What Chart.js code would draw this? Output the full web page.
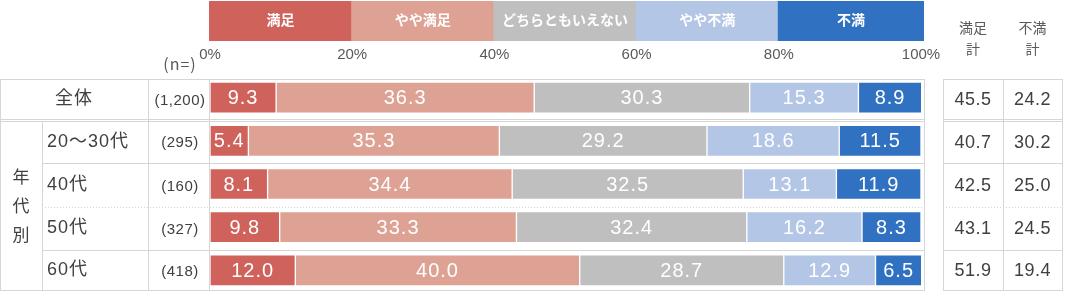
<!doctype html>
<html lang="ja">
<head>
<meta charset="utf-8">
<title>満足度</title>
<style>
  * { margin: 0; padding: 0; }
  body { background: #fff; }
  .chartBox { width: 1065px; height: 292px; position: relative; }
</style>
</head>
<body>
<div class="chartBox"><canvas id="myChart"></canvas></div>
<script src="https://cdn.jsdelivr.net/npm/chart.js"></script>
<script>
  // data
  const categories = ['全体', '20～30代', '40代', '50代', '60代'];
  const sampleSizes = ['(1,200)', '(295)', '(160)', '(327)', '(418)'];
  const seriesNames = ['満足', 'やや満足', 'どちらともいえない', 'やや不満', '不満'];
  const satisfied = [9.3, 5.4, 8.1, 9.8, 12.0];
  const somewhatSatisfied = [36.3, 35.3, 34.4, 33.3, 40.0];
  const neutral = [30.3, 29.2, 32.5, 32.4, 28.7];
  const somewhatDissatisfied = [15.3, 18.6, 13.1, 16.2, 12.9];
  const dissatisfied = [8.9, 11.5, 11.9, 8.3, 6.5];
  const satisfiedTotal = [45.5, 40.7, 42.5, 43.1, 51.9];
  const dissatisfiedTotal = [24.2, 30.2, 25.0, 24.5, 19.4];
  const tickLabels = ['0%', '20%', '40%', '60%', '80%', '100%'];

  const colors = ['#cf625b', '#dda294', '#bfbfbf', '#b4c6e6', '#3171c1'];
  const FONT = "'Liberation Sans', 'Noto Sans CJK JP', sans-serif";
  const JP = "'Noto Sans CJK JP', sans-serif";
  const LINE = '#d6d6d6';

  const seriesValues = [satisfied, somewhatSatisfied, neutral, somewhatDissatisfied, dissatisfied];

  const data = {
    labels: categories,
    datasets: seriesValues.map((vals, i) => ({
      label: seriesNames[i],
      data: vals,
      backgroundColor: colors[i],
      borderColor: 'rgba(255,255,255,0.55)',
      borderWidth: 1,
      borderSkipped: false,
      barThickness: 31
    }))
  };

  function rowBounds(y) {
    const c = categories.map((_, i) => y.getPixelForValue(i));
    const b = [c[0] - 19];
    for (let i = 1; i < c.length; i++) b.push((c[i - 1] + c[i]) / 2 + 1);
    b.push(c[c.length - 1] + 20);
    return b;
  }

  function hLine(ctx, x1, x2, yy, dotted) {
    ctx.save();
    ctx.strokeStyle = LINE;
    ctx.lineWidth = 1;
    if (dotted) ctx.setLineDash([1, 2]);
    ctx.beginPath();
    ctx.moveTo(x1, Math.round(yy) + 0.5);
    ctx.lineTo(x2, Math.round(yy) + 0.5);
    ctx.stroke();
    ctx.restore();
  }

  function vLine(ctx, xx, y1, y2) {
    ctx.save();
    ctx.strokeStyle = LINE;
    ctx.lineWidth = 1;
    ctx.beginPath();
    ctx.moveTo(Math.round(xx) + 0.5, y1);
    ctx.lineTo(Math.round(xx) + 0.5, y2);
    ctx.stroke();
    ctx.restore();
  }

  const tablePlugin = {
    id: 'tablePlugin',
    beforeDraw(chart) {
      const { ctx, chartArea: { left, right }, scales: { x, y } } = chart;
      const b = rowBounds(y);
      const gridRight = right + 3;
      const tL = 943, tM = 1003, tR = 1062;

      // legend boxes on top
      ctx.save();
      seriesNames.forEach((name, i) => {
        const x1 = x.getPixelForValue(i * 20) - 1;
        const x2 = i === 4 ? gridRight : x.getPixelForValue((i + 1) * 20);
        ctx.fillStyle = colors[i];
        ctx.fillRect(x1, 1, x2 - x1, 40);
        ctx.fillStyle = '#fff';
        ctx.font = 'bold 14px ' + JP;
        ctx.textAlign = 'center';
        ctx.textBaseline = 'middle';
        ctx.fillText(name, (x1 + x2) / 2, 20);
      });

      // headers
      ctx.fillStyle = '#595959';
      ctx.font = '14px ' + JP;
      ctx.textAlign = 'center';
      ctx.textBaseline = 'middle';
      ctx.fillText('満足', (tL + tM) / 2, 28);
      ctx.fillText('計', (tL + tM) / 2, 49);
      ctx.fillText('不満', (tM + tR) / 2, 28);
      ctx.fillText('計', (tM + tR) / 2, 49);
      ctx.font = '16px ' + JP;
      ctx.letterSpacing = '1px';
      ctx.fillText('(n=)', 180, 64);
      ctx.letterSpacing = '0px';
      ctx.restore();

      // grid lines
      hLine(ctx, 0, gridRight, b[0]);
      hLine(ctx, tL, tR, b[0]);
      hLine(ctx, 0, gridRight, b[1] - 1);
      hLine(ctx, 0, gridRight, b[1] + 1);
      hLine(ctx, tL, tR, b[1] - 1);
      hLine(ctx, tL, tR, b[1] + 1);
      hLine(ctx, 42, gridRight, b[2]);
      hLine(ctx, tL, tR, b[2]);
      hLine(ctx, 42, gridRight, b[3], true);
      hLine(ctx, tL, tR, b[3], true);
      hLine(ctx, 42, gridRight, b[4]);
      hLine(ctx, tL, tR, b[4]);
      hLine(ctx, 0, gridRight, b[5]);
      hLine(ctx, tL, tR, b[5]);
      const top = Math.round(b[0]), bot = Math.round(b[5]) + 1;
      vLine(ctx, 0, top, bot);
      vLine(ctx, 42, b[1] + 1, bot);
      vLine(ctx, 148, top, bot);
      vLine(ctx, left - 1, top, bot);
      vLine(ctx, gridRight, top, bot);
      vLine(ctx, tL, top, bot);
      vLine(ctx, tM, top, bot);
      vLine(ctx, tR, top, bot);

      // left labels
      ctx.save();
      ctx.fillStyle = '#404040';
      ctx.textBaseline = 'middle';
      categories.forEach((cat, i) => {
        const mid = (b[i] + b[i + 1]) / 2;
        ctx.font = '18px ' + FONT;
        ctx.letterSpacing = '1px';
        if (i === 0) {
          ctx.textAlign = 'center';
          ctx.fillText(cat, 74, mid);
        } else {
          ctx.textAlign = 'left';
          ctx.fillText(cat, 47, mid);
        }
        ctx.font = '15px ' + FONT;
        ctx.letterSpacing = '0.5px';
        ctx.textAlign = 'center';
        ctx.fillText(sampleSizes[i], 180, mid + 1.5);

        ctx.font = '18px ' + FONT;
        ctx.fillText(satisfiedTotal[i].toFixed(1), (tL + tM) / 2, mid + 1);
        ctx.fillText(dissatisfiedTotal[i].toFixed(1), (tM + tR) / 2, mid + 1);
      });
      // vertical group label
      ctx.font = '17px ' + JP;
      ctx.letterSpacing = '0px';
      ctx.textAlign = 'center';
      const gMid = (b[1] + b[5]) / 2;
      ['年', '代', '別'].forEach((ch, k) => ctx.fillText(ch, 21, gMid + (k - 1) * 29));
      ctx.restore();
    },
    afterDatasetsDraw(chart) {
      const { ctx } = chart;
      ctx.save();
      ctx.fillStyle = '#fff';
      ctx.font = '20px ' + FONT;
      ctx.letterSpacing = '1px';
      ctx.textAlign = 'center';
      ctx.textBaseline = 'middle';
      chart.data.datasets.forEach((ds, di) => {
        chart.getDatasetMeta(di).data.forEach((bar, i) => {
          const p = bar.getCenterPoint();
          ctx.fillText(ds.data[i].toFixed(1), p.x, p.y + 1);
        });
      });
      ctx.restore();
    }
  };

  // config
  const config = {
    type: 'bar',
    data,
    options: {
      indexAxis: 'y',
      responsive: true,
      maintainAspectRatio: false,
      animation: false,
      layout: { padding: { left: 210, right: 144, top: 34, bottom: 0 } },
      plugins: {
        legend: { display: false },
        tooltip: { enabled: false }
      },
      scales: {
        x: {
          position: 'top',
          stacked: true,
          min: 0,
          max: 100,
          grid: { display: false, drawTicks: false },
          border: { display: false },
          ticks: {
            stepSize: 20,
            padding: 12,
            color: '#595959',
            font: { size: 15, family: FONT },
            callback: (v, i) => tickLabels[i]
          }
        },
        y: {
          stacked: true,
          display: false
        }
      }
    },
    plugins: [tablePlugin]
  };

  const myChart = new Chart(document.getElementById('myChart'), config);
</script>
</body>
</html>
